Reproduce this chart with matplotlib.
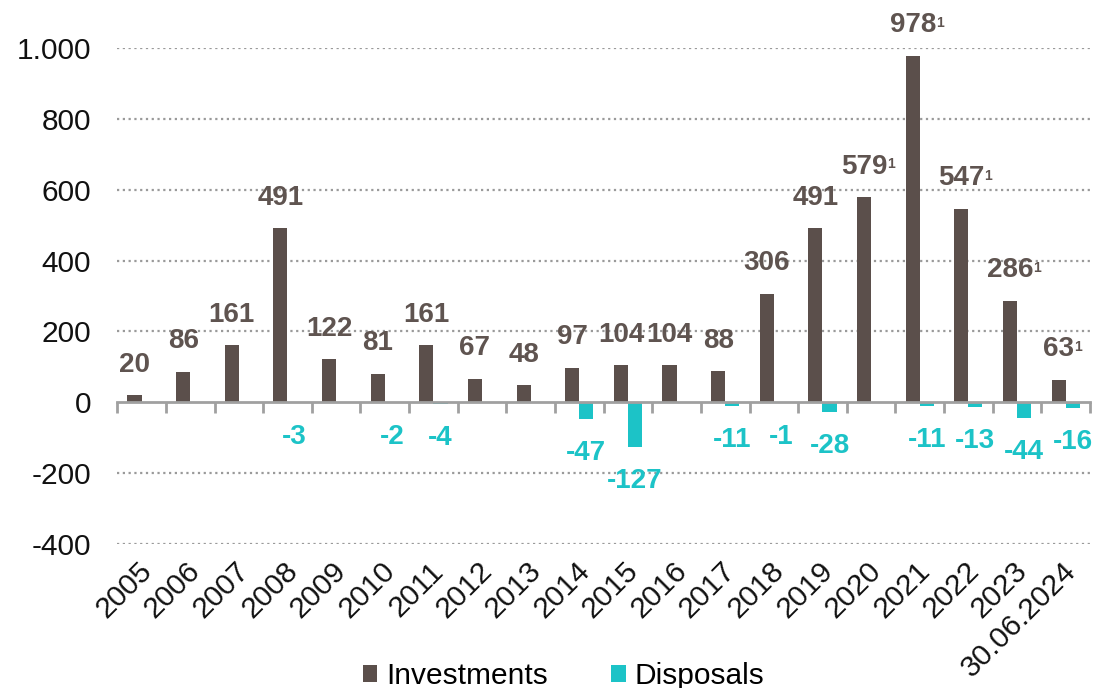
import matplotlib
matplotlib.use("Agg")
import matplotlib.pyplot as plt
from matplotlib.ticker import FuncFormatter, FixedLocator, NullFormatter
from matplotlib.transforms import offset_copy, blended_transform_factory
import numpy as np

# Data (EUR m)
categories = ["2005", "2006", "2007", "2008", "2009", "2010", "2011", "2012",
              "2013", "2014", "2015", "2016", "2017", "2018", "2019", "2020",
              "2021", "2022", "2023", "30.06.2024"]
investments = [20, 86, 161, 491, 122, 81, 161, 67, 48, 97, 104, 104, 88, 306,
               491, 579, 978, 547, 286, 63]
disposals = [None, None, None, -3, None, -2, -4, None, None, -47, -127, None,
             -11, -1, -28, None, -11, -13, -44, -16]
footnote = [False] * 15 + [True, True, True, True, True]
y_ticks = [-400, -200, 0, 200, 400, 600, 800, 1000]

INV_COLOR = "#5b4f4b"
INV_LABEL = "#5f5450"
DIS_COLOR = "#1cc3c7"
GRID_COLOR = "#9a9a9a"

plt.rcParams["font.family"] = ["Liberation Sans", "DejaVu Sans"]

fig = plt.figure(figsize=(10.96, 6.88), dpi=100)
ax = fig.add_axes([0.107, 0.2093, 0.8875, 0.7207])

x = np.arange(len(categories))
w = 0.29
dis_vals = np.array([np.nan if v is None else v for v in disposals], dtype=float)

inv_bars = ax.bar(x - w / 2, investments, width=w, color=INV_COLOR,
                  label="Investments", zorder=3)
dis_bars = ax.bar(x + w / 2, np.nan_to_num(dis_vals), width=w, color=DIS_COLOR,
                  label="Disposals", zorder=3)

ax.set_xlim(-0.5, len(categories) - 0.5)
ax.set_ylim(-400, 1000)

# Dotted horizontal gridlines, solid zero line
for yv in y_ticks:
    if yv != 0:
        ax.axhline(yv, color=GRID_COLOR, lw=1.6, ls=(0, (1, 1.6)), zorder=1)

for s in ["top", "right", "left"]:
    ax.spines[s].set_visible(False)
ax.spines["bottom"].set_position(("data", 0))
ax.spines["bottom"].set_color("#a0a0a0")
ax.spines["bottom"].set_linewidth(2)
ax.spines["bottom"].set_zorder(4)

ax.xaxis.set_major_locator(FixedLocator(x))
ax.xaxis.set_major_formatter(NullFormatter())
ax.xaxis.set_minor_locator(FixedLocator(np.arange(len(categories) + 1) - 0.5))
ax.tick_params(axis="x", which="major", length=0)
ax.tick_params(axis="x", which="minor", length=8, width=2, color="#a0a0a0",
               direction="out")

ax.set_yticks(y_ticks)
ax.yaxis.set_major_formatter(
    FuncFormatter(lambda v, p: f"{v:,.0f}".replace(",", ".")))
ax.tick_params(axis="y", length=0, pad=19, labelsize=21.5, labelcolor="#111111")

# Category labels under the plot area
trans = blended_transform_factory(ax.transData, ax.transAxes)
lab_trans = offset_copy(trans, fig=fig, x=-4, y=-13, units="dots")
for xi, cat in zip(x, categories):
    ax.text(xi, 0, cat, transform=lab_trans, rotation=45, ha="right", va="top",
            rotation_mode="anchor", fontsize=21.5, color="#111111")

# Value labels
for bar, val, fn in zip(inv_bars, investments, footnote):
    cx = bar.get_x() + bar.get_width() / 2
    t = ax.annotate(f"{val}", xy=(cx, val), xytext=(0, 22), textcoords="offset points",
                    ha="center", va="center", fontsize=20, fontweight="bold",
                    color=INV_LABEL, zorder=5, annotation_clip=False)
    if fn:
        ax.annotate("1", xy=(1.0, 0.86), xycoords=t, ha="left", va="top",
                    fontsize=10, fontweight="bold", color=INV_LABEL,
                    annotation_clip=False)

for bar, val in zip(dis_bars, disposals):
    if val is None:
        continue
    cx = bar.get_x() + bar.get_width() / 2
    ax.annotate(f"{val}", xy=(cx, val), xytext=(0, -24.5), textcoords="offset points",
                ha="center", va="center", fontsize=20, fontweight="bold",
                color=DIS_COLOR, zorder=5, annotation_clip=False)

fig.legend(handles=[inv_bars, dis_bars], labels=["Investments", "Disposals"],
           loc="center", bbox_to_anchor=(563.5 / 1096, 1 - 676 / 688), ncol=2,
           frameon=False, fontsize=21.5, handlelength=0.5, handleheight=0.5,
           handletextpad=0.3, columnspacing=2.1, borderpad=0)

fig.savefig("out.png", dpi=100)
